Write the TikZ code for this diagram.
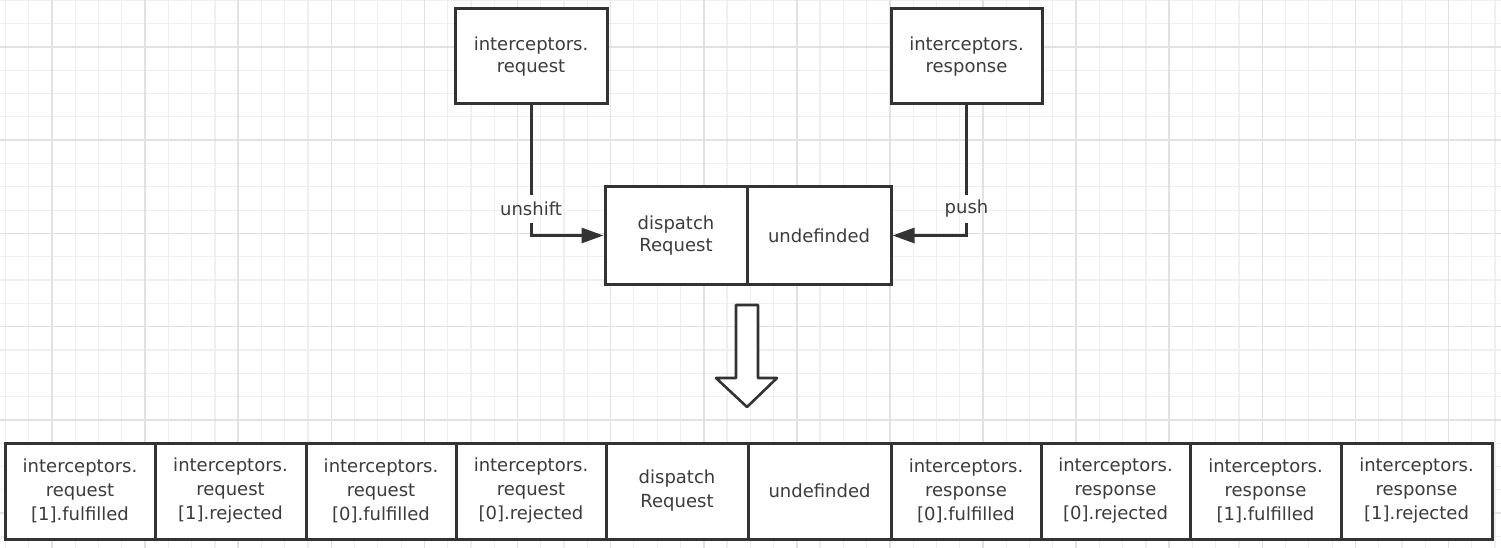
\documentclass[tikz,border=0pt]{standalone}
\usepackage{fontspec}
\setmainfont{DejaVu Sans}
\usetikzlibrary{arrows.meta}
\definecolor{ink}{HTML}{333333}
\definecolor{txt}{HTML}{3C3C3C}
\definecolor{gminor}{HTML}{EFEFEF}
\definecolor{gmajor}{HTML}{E2E2E2}
\tikzset{
  minorgrid/.style={draw=gminor, line width=1.2pt},
  majorgrid/.style={draw=gmajor, line width=1.6pt},
  box/.style={draw=ink, line width=3pt, fill=white, rectangle, inner sep=0pt, align=center,
    text=txt, font=\fontsize{18}{22}\selectfont},
  cell/.style={box, minimum height=96pt, font=\fontsize{18}{24}\selectfont},
  lbl/.style={inner sep=0pt, minimum height=28pt, text=txt, font=\fontsize{18}{22}\selectfont},
  conn/.style={draw=ink, line width=3pt},
  tipped/.style={conn, -{Triangle[length=22pt,width=15pt]}},
  bigarrow/.style={draw=ink, line width=2.6pt, fill=white, line join=round},
}
\begin{document}
\begin{tikzpicture}[x=1pt,y=-1pt]
\useasboundingbox (0,0) rectangle (1501,548);
\fill[white] (0,0) rectangle (1501,548);
% grid
\foreach \i in {-3,...,62} \draw[minorgrid] ({52+23.275*\i},0) -- ({52+23.275*\i},548);
\foreach \j in {-2,...,22} \draw[minorgrid] (0,{47+23.3*\j}) -- (1501,{47+23.3*\j});
\foreach \i in {-1,...,15} \draw[majorgrid] ({52+93.1*\i},0) -- ({52+93.1*\i},548);
\foreach \j in {-1,...,5} \draw[majorgrid] (0,{47+93.2*\j}) -- (1501,{47+93.2*\j});

% top boxes
\node[box, minimum width=152pt, minimum height=95pt] (req) at (531,56.5) {interceptors.\\request};
\node[box, minimum width=151pt, minimum height=95pt] (res) at (966.5,56.5) {interceptors.\\response};
\node[box, minimum width=142pt, minimum height=97pt] (disp) at (676,235.5) {dispatch\\Request};
\node[box, minimum width=144pt, minimum height=97pt] (undef) at (819,235.5) {undefinded};

% labels
\node[lbl] (ul) at (531,209) {unshift};
\node[lbl] (pl) at (966.5,209) {push};

% connectors
\draw[conn] (req.south) -- (ul.north);
\draw[tipped] (ul.south) |- (disp.west);
\draw[conn] (res.south) -- (pl.north);
\draw[tipped] (pl.south) |- (undef.east);

% hollow arrow
\draw[bigarrow] (736,305) -- (758,305) -- (758,378) -- (777,378) -- (747,407) -- (716,378) -- (736,378) -- cycle;

% bottom row
\node[cell, minimum width=150pt] (c1) at (80,491) {interceptors.\\request\\{[1]}.fulfilled};
\node[cell, minimum width=151pt] (c2) at (230.5,491) {interceptors.\\request\\{[1]}.rejected};
\node[cell, minimum width=150pt] (c3) at (381,491) {interceptors.\\request\\{[0]}.fulfilled};
\node[cell, minimum width=150pt] (c4) at (531,491) {interceptors.\\request\\{[0]}.rejected};
\node[cell, minimum width=142pt] (c5) at (677,491) {dispatch\\Request};
\node[cell, minimum width=143pt] (c6) at (819.5,491) {undefinded};
\node[cell, minimum width=150pt] (c7) at (966,491) {interceptors.\\response\\{[0]}.fulfilled};
\node[cell, minimum width=149pt] (c8) at (1115.5,491) {interceptors.\\response\\{[0]}.rejected};
\node[cell, minimum width=151pt] (c9) at (1265.5,491) {interceptors.\\response\\{[1]}.fulfilled};
\node[cell, minimum width=151pt] (c10) at (1416.5,491) {interceptors.\\response\\{[1]}.rejected};
\end{tikzpicture}
\end{document}
